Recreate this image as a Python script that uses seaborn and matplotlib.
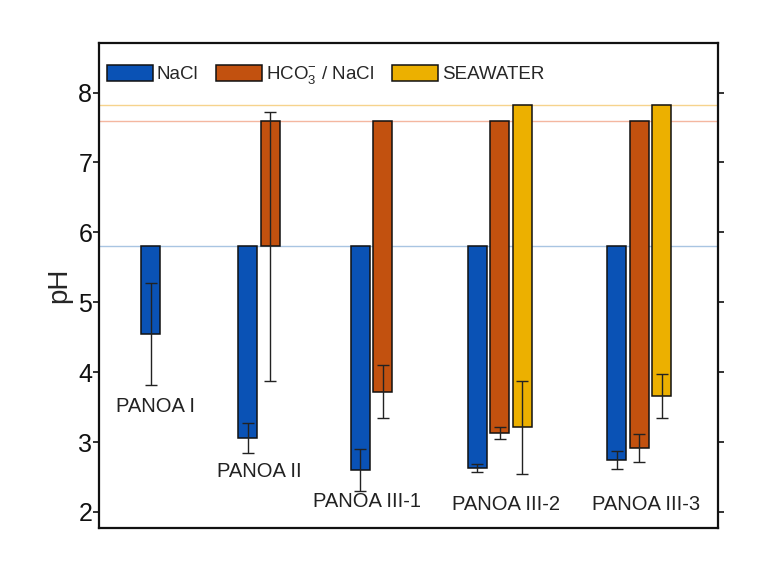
import numpy as np
import seaborn as sns
import matplotlib.pyplot as plt

# data (pH)
groups = ['PANOA I', 'PANOA II', 'PANOA III-1', 'PANOA III-2', 'PANOA III-3']
series = ['NaCl', r'HCO$_\mathregular{3}^{\mathregular{-}}$ / NaCl', 'SEAWATER']
ph_start = [5.81, 7.595, 7.82]
nacl_end = [4.55, 3.06, 2.60, 2.63, 2.74]
nacl_err = [0.73, 0.21, 0.30, 0.06, 0.13]
hco3_end = [np.nan, 5.80, 3.72, 3.13, 2.91]
hco3_err = [np.nan, 1.92, 0.38, 0.09, 0.20]
sw_end = [np.nan, np.nan, np.nan, 3.21, 3.66]
sw_err = [np.nan, np.nan, np.nan, 0.67, 0.31]

colors = ['#0a52b5', '#c2510f', '#ecb000']
line_colors = ['#a9c5e2', '#f4b7a0', '#f6d38d']

# layout: centre slot of each group, slot spacing = 1
group_x = np.array([3.3, 7.6, 12.6, 17.8, 24.0])
label_x = [2.5, 7.1, 11.9, 18.1, 24.3]
label_y = [3.51, 2.58, 2.15, 2.10, 2.10]
bar_w = 0.85

sns.set_theme(style='ticks')
plt.rcParams['font.family'] = ['Liberation Sans', 'DejaVu Sans']

fig, ax = plt.subplots(figsize=(7.68, 5.73), dpi=100)
fig.subplots_adjust(left=0.129, right=0.935, top=0.925, bottom=0.0785)

ends = [nacl_end, hco3_end, sw_end]
errs = [nacl_err, hco3_err, sw_err]

for i in range(3):
    ax.axhline(ph_start[i], color=line_colors[i], lw=1.0, zorder=0)

for i in range(3):
    end = np.array(ends[i])
    err = np.array(errs[i])
    ok = ~np.isnan(end)
    x = group_x[ok] + (i - 1)
    h = end[ok] - ph_start[i]
    w = bar_w / np.min(np.diff(x)) if len(x) > 1 else bar_w
    sns.barplot(x=x, y=h, native_scale=True, bottom=ph_start[i], width=w,
                color=colors[i], saturation=1, edgecolor='#111111', linewidth=1.1,
                errorbar=None, label=series[i], ax=ax, zorder=2)
    ax.errorbar(x, end[ok], yerr=err[ok], fmt='none', ecolor='#222222',
                elinewidth=1.0, capsize=4.3, capthick=1.0, zorder=3)

for gx, gy, name in zip(label_x, label_y, groups):
    ax.text(gx, gy, name, ha='center', va='center', fontsize=14.5, color='#222222')

ax.set_xlim(0, 27.5)
ax.set_ylim(1.77, 8.71)
ax.set_yticks([2, 3, 4, 5, 6, 7, 8])
ax.set_xticks([])
ax.set_xlabel('')
ax.set_ylabel('pH', fontsize=20, labelpad=4)
ax.tick_params(axis='y', which='both', left=True, right=True, direction='out',
               length=4, width=1.2, labelsize=18, pad=1, colors='#111111')
for s in ax.spines.values():
    s.set_color('#111111')
    s.set_linewidth(1.6)
    s.set_visible(True)

leg = ax.legend(loc='upper left', ncol=3, frameon=False, fontsize=13.5,
                handlelength=2.45, handleheight=0.95, handletextpad=0.2,
                columnspacing=0.95, borderaxespad=0.3, bbox_to_anchor=(-0.008, 0.983))

fig.savefig('out.png', dpi=100)
